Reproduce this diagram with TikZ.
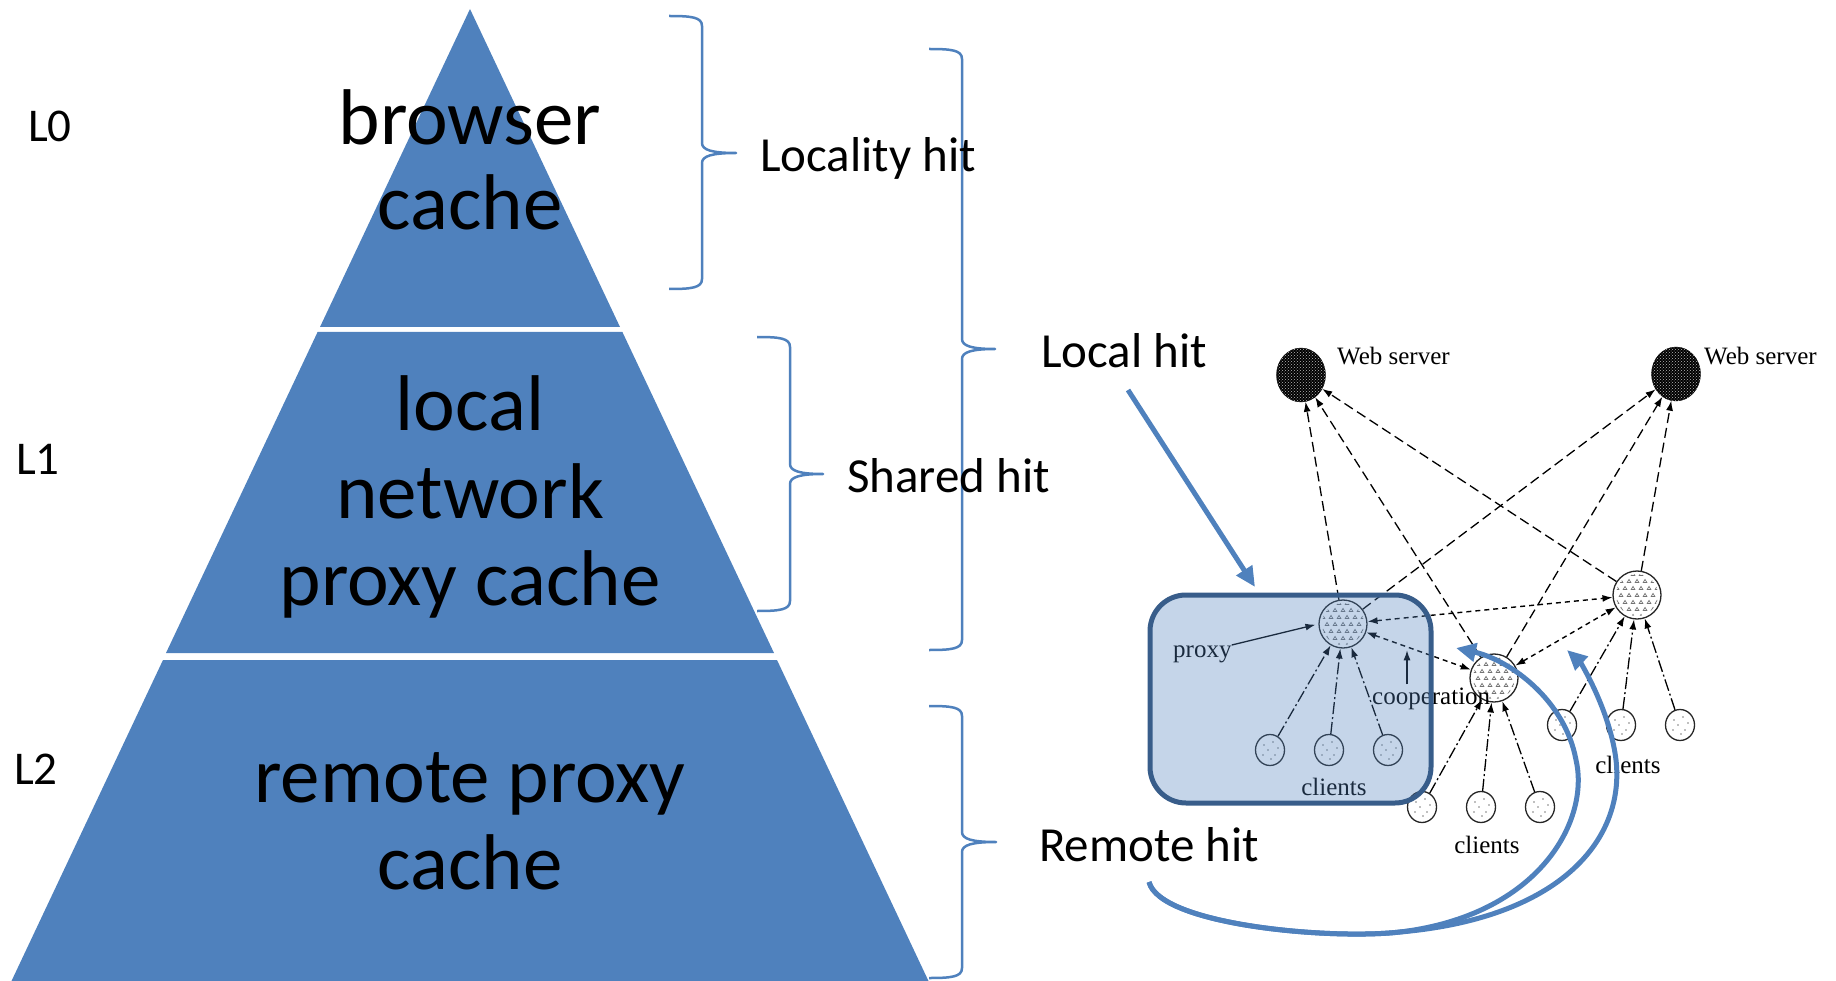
\documentclass[tikz,border=0pt]{standalone}
\usepackage{fontspec}
\setmainfont{Carlito}
\newfontfamily\netfont{Liberation Serif}
\usetikzlibrary{shapes.geometric,arrows.meta,patterns,calc}
\definecolor{accent}{RGB}{79,129,189}
\definecolor{boxline}{RGB}{56,93,138}

% curly brace: x-start, x-stem, x-tip, y-top, y-tip, y-bottom
\newcommand\drawcurly[6]{%
  \draw[brace] (#1,#4) .. controls (#1+22,#4) and (#2,#4+1) .. (#2,#4+10)
    -- (#2,#5-10) .. controls (#2,#5-3) and (#2+10,#5) .. (#3,#5)
    .. controls (#2+10,#5) and (#2,#5+3) .. (#2,#5+10)
    -- (#2,#6-10) .. controls (#2,#6-1) and (#1+22,#6) .. (#1,#6);}

% small caret marks inside a proxy disc
\newcommand\proxymarks[1]{%
  \begin{scope}
    \clip (#1.center) ellipse (21pt and 21pt);
    \foreach \i in {-3,...,3}{
      \foreach \j in {-3,...,3}{
        \pgfmathsetmacro\ox{\i*8+mod(abs(\j),2)*4}
        \draw[gray!90!black, line width=0.7pt, shift={(#1.center)}, shift={(\ox,\j*7)}]
          (-1.8,1.4) -- (0,-1.6) -- (1.8,1.4) -- cycle;
      }}
  \end{scope}}

% sparse dots inside a client disc
\newcommand\clientmarks[1]{%
  \foreach \dx/\dy in {-6/-5,3/-8,8/-2,-2/0,5/5,-7/5,1/9}
    \fill[gray, shift={(#1.center)}] (\dx,\dy) circle (0.9pt);}

\begin{document}
\begin{tikzpicture}[x=1pt,y=-1pt,
  big/.style={font=\fontsize{79}{88}\selectfont, anchor=base, inner sep=0pt},
  lvl/.style={font=\fontsize{47}{56}\selectfont, anchor=base west, inner sep=0pt},
  hit/.style={font=\fontsize{49}{58}\selectfont, anchor=base west, inner sep=0pt},
  brace/.style={draw=accent, line width=2.5pt, line join=round},
  net/.style={font=\netfont\fontsize{25}{30}\selectfont, inner sep=0pt},
  server/.style={ellipse, minimum width=49pt, minimum height=54pt, inner sep=0pt,
    draw=black, fill=black, postaction={pattern=crosshatch dots, pattern color=gray!55}},
  proxynode/.style={ellipse, minimum width=48pt, minimum height=48pt, inner sep=0pt,
    draw=black!85, line width=1.3pt, fill=white},
  clientnode/.style={ellipse, minimum width=29pt, minimum height=31pt, inner sep=0pt,
    draw=black!85, line width=1.3pt, fill=white},
  webline/.style={draw=black, line width=1.3pt, dash pattern=on 10pt off 5pt,
    -{Latex[length=10pt,width=7pt]}},
  coopline/.style={draw=black, line width=1.4pt, dash pattern=on 5pt off 4pt,
    {Latex[length=10pt,width=7pt]}-{Latex[length=10pt,width=7pt]}},
  clientline/.style={draw=black, line width=1.3pt, dash pattern=on 12pt off 3pt on 2pt off 3pt,
    -{Latex[length=10pt,width=7pt]}},
  plainarrow/.style={draw=black, line width=1.3pt, -{Latex[length=10pt,width=7pt]}},
  bluearrow/.style={draw=accent, line width=5pt, -{Triangle[length=20pt,width=18pt]}},
]
\useasboundingbox (0,0) rectangle (1836,981);

% ---- cache pyramid ----
\fill[accent] (470,9) -- (620,327) -- (320,327) -- cycle;
\fill[accent] (317.6,332) -- (622.4,332) -- (774,653) -- (166,653) -- cycle;
\fill[accent] (163,660) -- (777,660) -- (928.5,981) -- (11.5,981) -- cycle;

\node[big] (t0a) at (470,145) {browser};
\node[big] (t0b) at (470,230) {cache};
\node[big] (t1a) at (470,430) {local};
\node[big] (t1b) at (470,518) {network};
\node[big] (t1c) at (470,605) {proxy cache};
\node[big] (t2a) at (470,802) {remote proxy};
\node[big] (t2b) at (470,889) {cache};

\node[lvl] (l0) at (28,142) {L0};
\node[lvl] (l1) at (16,474) {L1};
\node[lvl] (l2) at (14,784) {L2};

% ---- braces and hit labels ----
\drawcurly{669}{702}{736}{16}{153}{289}
\drawcurly{929}{962}{995}{49}{349}{650}
\drawcurly{757}{790}{823}{337}{474}{611}
\drawcurly{929}{962}{996}{706}{842}{978}

\node[hit] (locality) at (760,172) {Locality hit};
\node[hit] (localhit) at (1041,367) {Local hit};
\node[hit] (shared) at (847,492) {Shared hit};
\node[hit] (remote) at (1039,861) {Remote hit};

% ---- cooperative proxy network ----
\node[server] (ws1) at (1301,375) {};
\node[server] (ws2) at (1676,374) {};
\node[net, anchor=base west] (ws1l) at (1337,365) {Web server};
\node[net, anchor=base west] (ws2l) at (1704,365) {Web server};

\node[proxynode] (pA) at (1343,624) {};
\node[proxynode] (pB) at (1494,678) {};
\node[proxynode] (pC) at (1637,595) {};
\proxymarks{pA}\proxymarks{pB}\proxymarks{pC}

\foreach \n/\x/\y in {cA1/1270/750, cA2/1329/750, cA3/1388/750,
                      cB1/1422/807, cB2/1481/807, cB3/1540/807,
                      cC1/1562/725, cC2/1621/725, cC3/1680/725}{
  \node[clientnode] (\n) at (\x,\y) {};
  \clientmarks{\n}
}

\node[net, anchor=base] (clA) at (1334,795) {clients};
\node[net, anchor=base] (clB) at (1487,853) {clients};
\node[net, anchor=base] (clC) at (1628,773) {clients};
\node[net, anchor=base west] (plbl) at (1173,657) {proxy};
\node[net, anchor=base west] (coop) at (1372,704) {cooperation};

\foreach \p in {pA,pB,pC}{
  \draw[webline] (\p) -- (ws1);
  \draw[webline] (\p) -- (ws2);
}
\draw[coopline] (pA) -- (pC);
\draw[coopline] (pA) -- (pB);
\draw[coopline] (pB) -- (pC);

\foreach \c in {cA1,cA2,cA3}{\draw[clientline] (\c) -- (pA);}
\foreach \c in {cB1,cB2,cB3}{\draw[clientline] (\c) -- (pB);}
\foreach \c in {cC1,cC2,cC3}{\draw[clientline] (\c) -- (pC);}

\draw[plainarrow, shorten >=3pt] (plbl.north east) -- (pA.west);
\coordinate (coopup) at ($(coop.north west)+(35,-3)$);
\coordinate (coopend) at ($(coopup)+(0,-34)$);
\draw[plainarrow] (coopup) -- (coopend);

% highlighted local group
\node[draw=boxline, line width=5pt, rounded corners=36pt, fill=accent, fill opacity=0.33,
      draw opacity=1, minimum width=281pt, minimum height=208pt, inner sep=0pt]
      (grp) at (1290.5,699) {};

% ---- hit arrows ----
\coordinate (lhs) at (1128,390);
\coordinate (lht) at (1255,587);
\draw[bluearrow] (lhs) -- (lht);

\coordinate (rhs) at (1149,882);
\coordinate (rht1) at (1456,648);
\coordinate (rht2) at (1567,650);
\draw[bluearrow] (rhs) .. controls (1160,925) and (1330,940) .. (1400,932)
  .. controls (1540,915) and (1590,820) .. (1576,760)
  .. controls (1565,700) and (1510,660) .. (rht1);
\draw[bluearrow] (rhs) .. controls (1160,925) and (1330,940) .. (1400,932)
  .. controls (1560,918) and (1625,840) .. (1616,760)
  .. controls (1610,710) and (1580,662) .. (rht2);
\end{tikzpicture}
\end{document}
